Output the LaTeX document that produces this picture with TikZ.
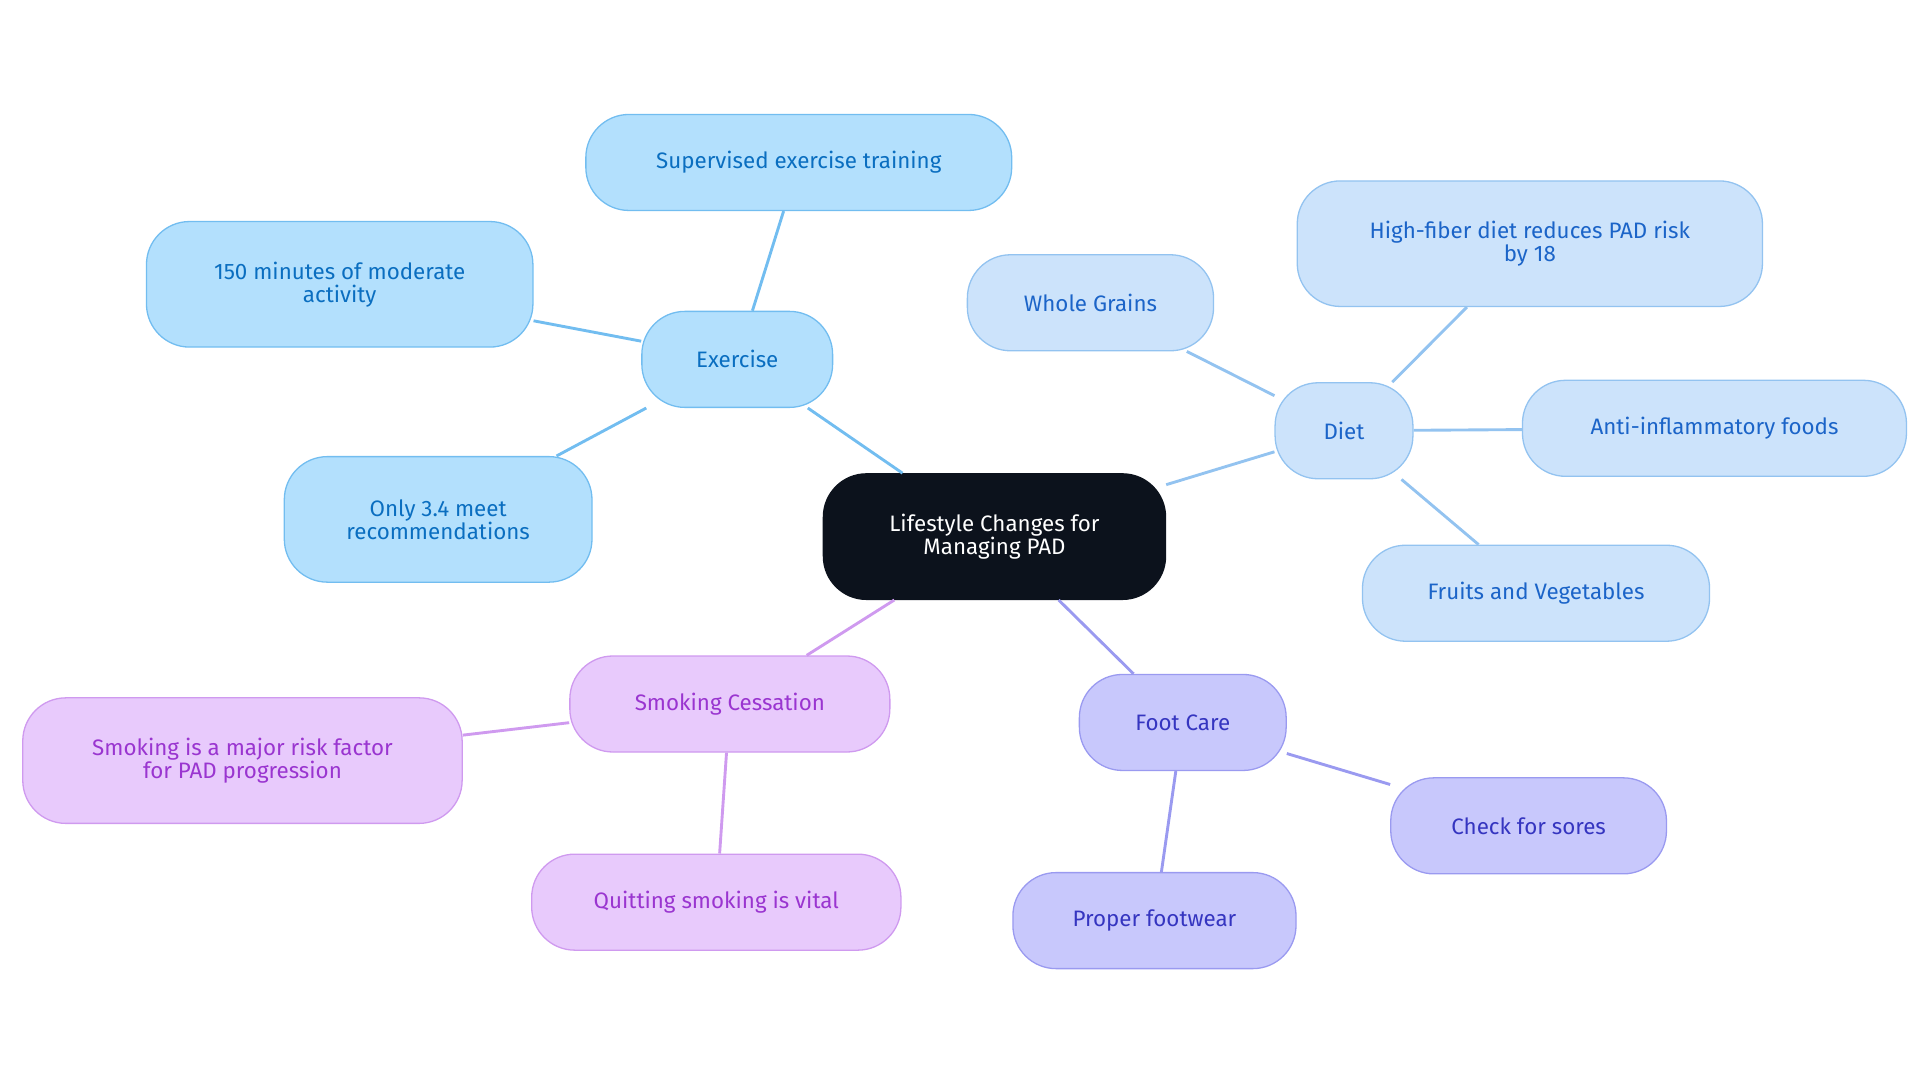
\documentclass[tikz,border=0pt]{standalone}
\usepackage{fontspec}
\setmainfont{Fira Sans}
\begin{document}
\begin{tikzpicture}[x=0.03cm,y=-0.03cm,
 base/.style={draw,line width=0.9pt,rounded corners=1.05cm,align=center,font=\fontsize{15.5}{16}\selectfont,inner sep=0pt},
 ex/.style={base,fill=ex1,draw=ex2,text=ex3},
 di/.style={base,fill=di1,draw=di2,text=di3},
 fc/.style={base,fill=fc1,draw=fc2,text=fc3},
 sm/.style={base,fill=sm1,draw=sm2,text=sm3},
 lk/.style={line width=2pt}]
\definecolor{ex1}{HTML}{B3E0FD}\definecolor{ex2}{HTML}{72BDF0}\definecolor{ex3}{HTML}{0A6EC0}
\definecolor{di1}{HTML}{CCE3FB}\definecolor{di2}{HTML}{93C3F0}\definecolor{di3}{HTML}{1B64C8}
\definecolor{fc1}{HTML}{C8C8FC}\definecolor{fc2}{HTML}{9A9AF0}\definecolor{fc3}{HTML}{3535C0}
\definecolor{sm1}{HTML}{E8CAFC}\definecolor{sm2}{HTML}{CF9AEF}\definecolor{sm3}{HTML}{9A35D0}
\useasboundingbox (0,0) rectangle (1560,880);
\newcommand{\nd}[7]{\node[#1,minimum width=#4*0.03cm,minimum height=#5*0.03cm] (#6) at (#2,#3) {#7};}
\nd{ex}{599}{292}{155}{78}{ex}{Exercise}
\nd{ex}{649}{132}{346}{78}{ex1n}{Supervised exercise training}
\nd{ex}{276}{231}{314}{102}{ex2n}{150 minutes of moderate\\activity}
\nd{ex}{356}{422}{250}{102}{ex3n}{Only 3.4 meet\\recommendations}
\nd{di}{1092}{350}{112}{78}{di}{Diet}
\nd{di}{886}{246}{200}{78}{di1n}{Whole Grains}
\nd{di}{1243}{198}{378}{102}{di2n}{High-fiber diet reduces PAD risk\\by 18}
\nd{di}{1393}{348}{312}{78}{di3n}{Anti-inflammatory foods}
\nd{di}{1248}{482}{282}{78}{di4n}{Fruits and Vegetables}
\nd{fc}{961}{587}{168}{78}{fc}{Foot Care}
\nd{fc}{1242}{671}{224}{78}{fc1n}{Check for sores}
\nd{fc}{938}{748}{230}{78}{fc2n}{Proper footwear}
\nd{sm}{593}{572}{260}{78}{sm}{Smoking Cessation}
\nd{sm}{197}{618}{357}{102}{sm1n}{Smoking is a major risk factor\\for PAD progression}
\nd{sm}{582}{733}{300}{78}{sm2n}{Quitting smoking is vital}
\nd{base,fill={rgb,255:red,12;green,18;blue,28},draw={rgb,255:red,12;green,18;blue,28},text=white}{808}{436}{278}{102}{root}{Lifestyle Changes for\\Managing PAD}
\begin{scope}[on background layer/.style={}]
\end{scope}
\begin{pgfinterruptboundingbox}\end{pgfinterruptboundingbox}
\tikzset{every path/.style={}}
\foreach \a/\b/\c in {root/ex/ex2,ex/ex1n/ex2,ex/ex2n/ex2,ex/ex3n/ex2,root/di/di2,di/di1n/di2,di/di2n/di2,di/di3n/di2,di/di4n/di2,root/fc/fc2,fc/fc1n/fc2,fc/fc2n/fc2,root/sm/sm2,sm/sm1n/sm2,sm/sm2n/sm2}
 \draw[lk,\c] (\a) -- (\b);
\end{tikzpicture}
\end{document}
